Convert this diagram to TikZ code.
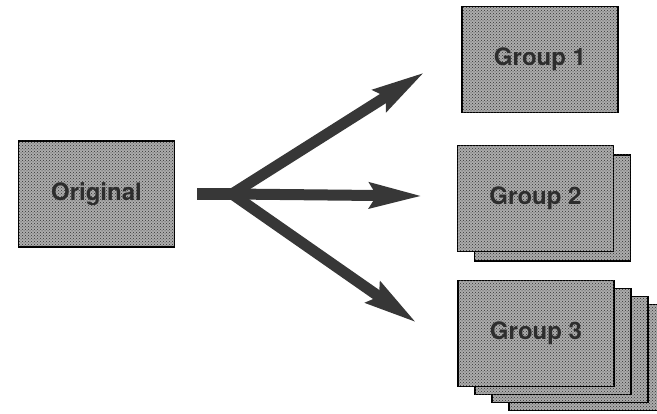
\documentclass[tikz,border=0pt]{standalone}
\usepackage{fontspec}
\setsansfont{TeX Gyre Heros}
\usetikzlibrary{arrows.meta, positioning, patterns}
\definecolor{grpFill}{RGB}{172,172,172}
\definecolor{grpDots}{RGB}{50,50,50}
\definecolor{grpText}{RGB}{45,45,45}
\definecolor{arrGray}{RGB}{55,55,55}

\begin{document}
\begin{tikzpicture}[
    x=1pt, y=-1pt,
    font=\sffamily\bfseries,
    card/.style={draw=black, line width=1.1pt, fill=grpFill,
                 postaction={pattern=crosshatch dots, pattern color=grpDots},
                 minimum width=156pt, minimum height=106pt, inner sep=0pt,
                 text=grpText, font=\sffamily\bfseries\fontsize{24}{28}\selectfont},
    stem/.style={line width=12pt, draw=arrGray},
    fan/.style={line width=11pt, draw=arrGray,
                -{Stealth[length=52pt, width=24pt, inset=6pt]}}
]
\useasboundingbox (0,0) rectangle (657,414);

% --- Source box (left).
\node[card] (orig) at (96.5,194) {Original};

% --- Stacked copies behind Group 2 and Group 3.
\node[card] (grptwoback) at (552.5,208) {};
\foreach \i in {3,2,1}
  \node[card] (grpthree\i) at (536+17*\i, 333.5+8*\i) {};

% --- Front boxes (right).
\node[card] (grpone)   at (540,59.5)   {Group 1};
\node[card] (grptwo)   at (535.5,198.5) {Group 2};
\node[card] (grpthree) at (536,333.5)   {Group 3};

% --- Fork: stem from the source, then three arrows.
\coordinate (fork) at (232,194);
\coordinate (tipone)   at (425,72);
\coordinate (tiptwo)   at (423,196);
\coordinate (tipthree) at (417,323);

\draw[stem, shorten <=22pt] (orig.east) -- ([xshift=4pt]fork);
\draw[fan] (fork) -- (tipone);
\draw[fan] (fork) -- (tiptwo);
\draw[fan] (fork) -- (tipthree);

\end{tikzpicture}
\end{document}
